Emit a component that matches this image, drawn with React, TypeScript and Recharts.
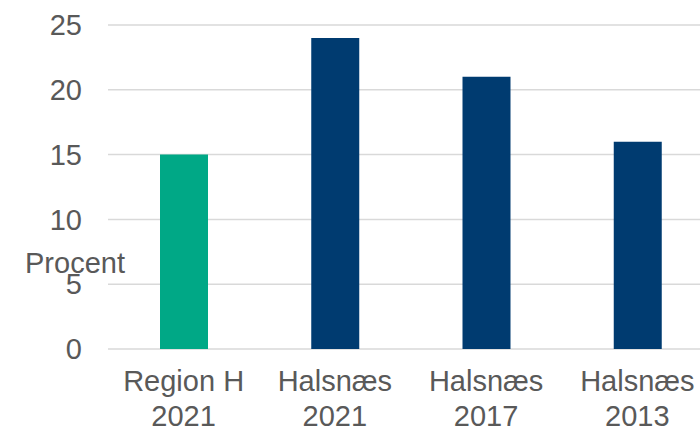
import { BarChart, Bar, Cell, XAxis, YAxis, CartesianGrid, Label } from 'recharts'

// ─── Data ─────────────────────────────────────────────────────────────────────

const CATEGORIES = ['Region H 2021', 'Halsnæs 2021', 'Halsnæs 2017', 'Halsnæs 2013']
const VALUES = [15, 24, 21, 16]
const Y_TICKS = [0, 5, 10, 15, 20, 25]

const GREEN = '#00A886'
const NAVY = '#003B70'
const TEXT = '#595959'
const FONT = '"Liberation Sans", Arial, sans-serif'
const FONT_SIZE = 29

const data = CATEGORIES.map((name, i) => ({ name, value: VALUES[i] }))

// two-line category labels: "Region H" / "2021"
function CategoryTick({ x, y, payload }: { x?: number; y?: number; payload?: { value: string } }) {
  const words = (payload?.value ?? '').split(' ')
  const year = words.pop()
  const place = words.join(' ')
  return (
    <text x={x} y={y} textAnchor="middle" fill={TEXT} fontSize={FONT_SIZE} fontFamily={FONT}>
      <tspan x={x} dy={34}>{place}</tspan>
      <tspan x={x} dy={35}>{year}</tspan>
    </text>
  )
}

export default function App() {
  return (
    <div style={{ position: 'absolute', left: 0, top: 0, width: 700, height: 429, overflow: 'hidden', background: '#fff' }}>
      <BarChart
        width={713}
        height={429}
        data={data}
        margin={{ top: 25, right: 0, bottom: 0, left: 0 }}
      >
        <CartesianGrid vertical={false} stroke="#D9D9D9" strokeWidth={1.5} />
        <XAxis
          dataKey="name"
          axisLine={false}
          tickLine={false}
          height={80}
          interval={0}
          tick={<CategoryTick />}
        />
        <YAxis
          domain={[0, 25]}
          ticks={Y_TICKS}
          axisLine={false}
          tickLine={false}
          tickSize={0}
          tickMargin={26}
          width={108}
          tick={{ fontSize: FONT_SIZE, fill: TEXT, fontFamily: FONT }}
        >
          <Label
            value="Procent"
            position="insideLeft"
            offset={25}
            dy={76}
            style={{ fontSize: FONT_SIZE, fill: TEXT, fontFamily: FONT }}
          />
        </YAxis>
        <Bar dataKey="value" barSize={48} isAnimationActive={false}>
          {data.map((d, i) => (
            <Cell key={d.name} fill={i === 0 ? GREEN : NAVY} />
          ))}
        </Bar>
      </BarChart>
    </div>
  )
}
